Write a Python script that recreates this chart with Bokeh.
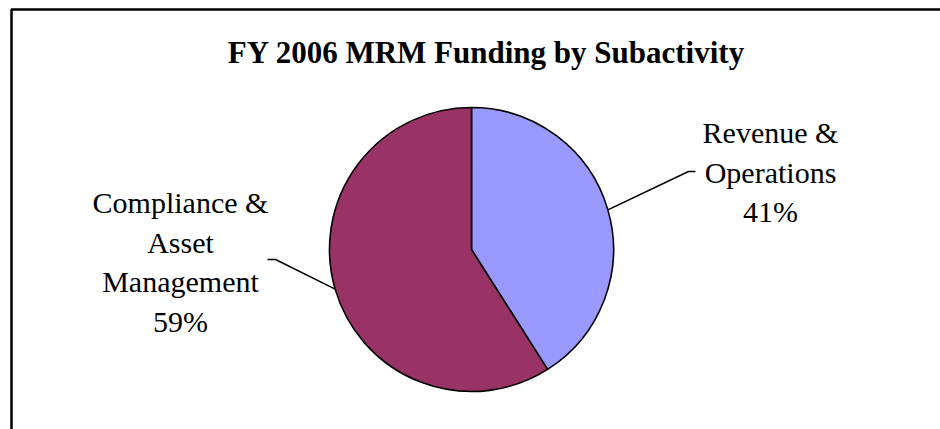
import math
from bokeh.plotting import figure
from bokeh.models import Range1d
from bokeh.core.properties import value
from bokeh.embed import file_html
from bokeh.resources import INLINE

# ---- data ----
title = "FY 2006 MRM Funding by Subactivity"
categories = ["Revenue &\nOperations", "Compliance &\nAsset\nManagement"]
shares = [41, 59]
colors = ["#9999FF", "#993366"]

# ---- layout (pixel-like data space) ----
W, H = 940, 429
cx, cy, R = 471, 180, 142
p = figure(width=W, height=H, output_backend="svg", toolbar_location=None,
           x_range=Range1d(0, W), y_range=Range1d(0, H), min_border=0,
           outline_line_color=None, background_fill_color="white",
           border_fill_color="white")
p.axis.visible = False
p.grid.visible = False

# frame (left and top edges visible; the rest is cropped in the reference)
p.line(x=[11, 11, W + 10], y=[-10, 420, 420], line_color="black", line_width=2.5)

# wedges, clockwise from 12 o'clock
total = float(sum(shares))
start = math.pi / 2
starts, ends, mids = [], [], []
for s in shares:
    sweep = 2 * math.pi * s / total
    starts.append(start)
    ends.append(start - sweep)
    mids.append(start - sweep / 2)
    start -= sweep
p.wedge(x=[cx] * len(shares), y=[cy] * len(shares), radius=R, radius_units="screen",
        start_angle=starts, end_angle=ends, direction="clock",
        fill_color=colors, line_color="black", line_width=1.6)

# labels
font = value("Liberation Serif")
label_anchor = [(770, 297), (180, 227)]   # centre x, first baseline
elbows = [((688, 258), (695, 258)), ((275, 170), (267, 170))]
line_h = 39.5
for cat, share, (lx, ly), mid, (e1, e2) in zip(categories, shares, label_anchor, mids, elbows):
    lines = cat.split("\n") + [f"{share}%"]
    ys = [ly - i * line_h for i in range(len(lines))]
    p.text(x=[lx] * len(lines), y=ys, text=lines, text_font=font,
           text_font_size="30px", text_align="center", text_baseline="alphabetic",
           text_color="black")
    px0 = cx + R * math.cos(mid)
    py0 = cy + R * math.sin(mid)
    p.line(x=[px0, e1[0], e2[0]], y=[py0, e1[1], e2[1]], line_color="black", line_width=1.6)

# title
p.text(x=[486], y=[377], text=[title], text_font=font, text_font_style="bold",
       text_font_size="31px", text_align="center", text_baseline="alphabetic",
       text_color="black")

open("out.html", "w").write(file_html(p, INLINE))
